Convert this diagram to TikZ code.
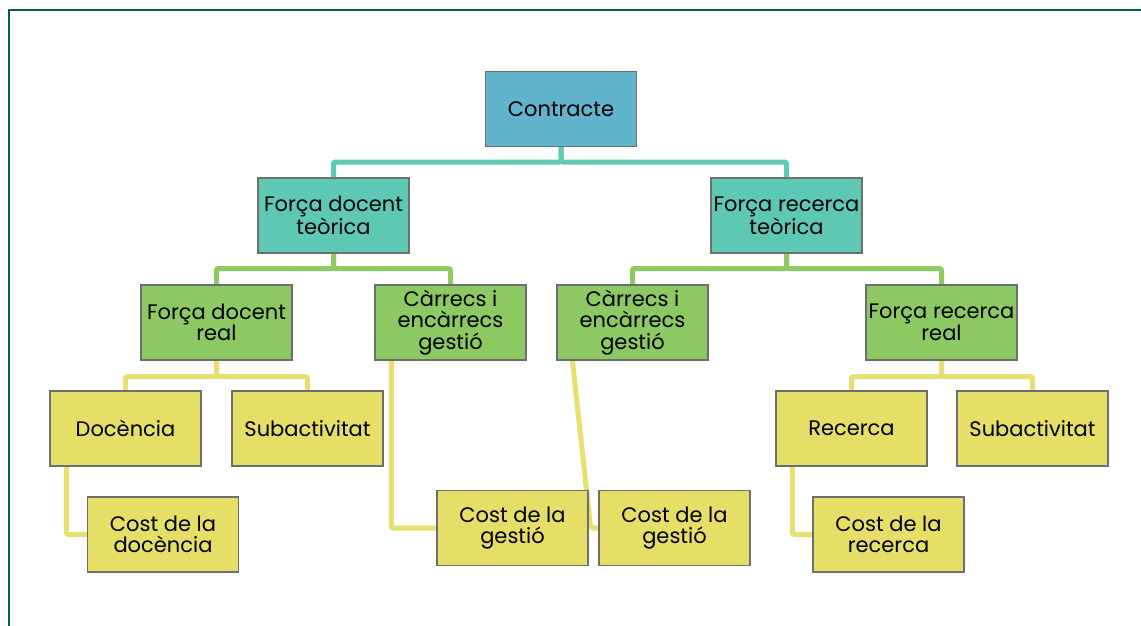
\documentclass[tikz,border=0pt]{standalone}
\usepackage{fontspec}
\setmainfont{Poppins}
\usetikzlibrary{calc}
\pgfdeclarelayer{background}
\pgfsetlayers{background,main}

\definecolor{framegreen}{HTML}{00663A}
\definecolor{boxblue}{HTML}{62B4CC}
\definecolor{boxteal}{HTML}{5DC9B5}
\definecolor{boxgreen}{HTML}{8DC963}
\definecolor{boxyellow}{HTML}{E5DF67}
\definecolor{boxedge}{HTML}{6E6E6E}
\definecolor{lineteal}{HTML}{5ECBB6}
\definecolor{linegreen}{HTML}{8DCB62}
\definecolor{lineyellow}{HTML}{E6E070}

\tikzset{
  orgbox/.style={draw=boxedge, line width=1.2pt, minimum width=151pt,
    minimum height=75pt, inner sep=1pt, align=center,
    font=\fontsize{21}{21.5}\selectfont, text=black},
  topbox/.style={orgbox, fill=boxblue},
  tealbox/.style={orgbox, fill=boxteal},
  greenbox/.style={orgbox, fill=boxgreen},
  yellowbox/.style={orgbox, fill=boxyellow},
  link/.style={line width=5pt, rounded corners=2pt},
  tealink/.style={link, draw=lineteal},
  greenlink/.style={link, draw=linegreen},
  yellowlink/.style={link, draw=lineyellow},
}

\begin{document}
\begin{tikzpicture}[x=1pt, y=-1pt]
\useasboundingbox (0,0) rectangle (1141,626);

% outer frame (top and left edges)
\draw[framegreen, line width=2.2pt] (8.8,626) -- (8.8,10) -- (1141,10);

% level 1
\node[topbox] (contracte) at (561,109) {Contracte};

% level 2
\node[tealbox] (fdt) at (333.5,215.5) {Força docent\\teòrica};
\node[tealbox] (frt) at (786.5,215.5) {Força recerca\\teòrica};

% level 3
\node[greenbox] (fdr) at (216.5,322.5) {Força docent\\real};
\node[greenbox] (cl)  at (450.5,322.5) {Càrrecs i\\encàrrecs\\gestió};
\node[greenbox] (cr)  at (632.5,322.5) {Càrrecs i\\encàrrecs\\gestió};
\node[greenbox] (frr) at (941.5,322.5) {Força recerca\\real};

% level 4
\node[yellowbox] (doc)  at (125.5,428.5) {Docència};
\node[yellowbox] (subl) at (307.5,428.5) {Subactivitat};
\node[yellowbox] (rec)  at (851.5,428.5) {Recerca};
\node[yellowbox] (subr) at (1032.5,428.5) {Subactivitat};

% level 5
\node[yellowbox] (costd) at (163,534.5) {Cost de la\\docència};
\node[yellowbox] (cgl)   at (512.5,528) {Cost de la\\gestió};
\node[yellowbox] (cgr)   at (674.5,528) {Cost de la\\gestió};
\node[yellowbox] (costr) at (888.5,534.5) {Cost de la\\recerca};

\begin{pgfonlayer}{background}
  \draw[tealink] (contracte.south) -- ++(0,15) -| (fdt.north);
  \draw[tealink] (contracte.south) -- ++(0,15) -| (frt.north);

  \draw[greenlink] (fdt.south) -- ++(0,15) -| (fdr.north);
  \draw[greenlink] (fdt.south) -- ++(0,15) -| (cl.north);
  \draw[greenlink] (frt.south) -- ++(0,15) -| (cr.north);
  \draw[greenlink] (frt.south) -- ++(0,15) -| (frr.north);

  \draw[yellowlink] (fdr.south) -- ++(0,16) -| (doc.north);
  \draw[yellowlink] (fdr.south) -- ++(0,16) -| (subl.north);
  \draw[yellowlink] (frr.south) -- ++(0,16) -| (rec.north);
  \draw[yellowlink] (frr.south) -- ++(0,16) -| (subr.north);

  \draw[yellowlink] ($(doc.south west)+(17,0)$) |- (costd.west);
  \draw[yellowlink] ($(rec.south west)+(17,0)$) |- (costr.west);
  \draw[yellowlink] ($(cl.south west)+(17,0)$) |- (cgl.west);
  \draw[yellowlink] ($(cr.south west)+(16,0)$)
      -- ($(cgl.east |- cgr.west)+(2,0)$) -- (cgr.west);
\end{pgfonlayer}
\end{tikzpicture}
\end{document}
